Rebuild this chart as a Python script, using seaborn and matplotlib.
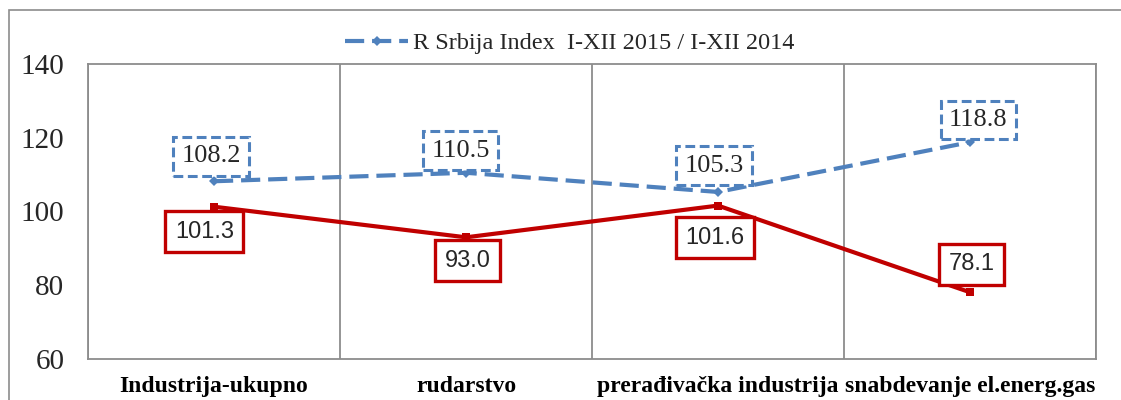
import pandas as pd
import numpy as np
import matplotlib.pyplot as plt
import matplotlib.patches as mpatches
import seaborn as sns

# --- podaci ---
kategorije = ['Industrija-ukupno', 'rudarstvo', 'prerađivačka industrija', 'snabdevanje el.energ.gas']
srbija = [108.2, 110.5, 105.3, 118.8]
druga_serija = [101.3, 93.0, 101.6, 78.1]
legenda = 'R Srbija Index  I-XII 2015 / I-XII 2014'

df = pd.DataFrame({'kategorija': kategorije, 'srbija': srbija, 'druga': druga_serija})

sns.set_style('white')
plt.rcParams['font.family'] = ['Liberation Serif', 'DejaVu Serif']

plava = '#4F81BD'
crvena = '#C00000'
siva = '#8C8C8C'

fig = plt.figure(figsize=(11.21, 4.0), dpi=100)
ax = fig.add_axes([88 / 1121, 1 - 359 / 400, (1096 - 88) / 1121, (359 - 64) / 400])

# okvir oko cele slike (desno i dole izlazi van slike)
fig.patches.append(mpatches.Rectangle((9 / 1121, -0.5), 1.2, 1.5 - 10 / 400, transform=fig.transFigure,
                                      fill=False, edgecolor=siva, linewidth=1.2))

sns.lineplot(data=df, x='kategorija', y='srbija', ax=ax, sort=False, color=plava,
             linewidth=3, marker='D', markersize=5, markeredgewidth=0, label=legenda)
sns.lineplot(data=df, x='kategorija', y='druga', ax=ax, sort=False, color=crvena,
             linewidth=3, marker='s', markersize=6, markeredgewidth=0, label='_nolegend_')
ax.lines[0].set_dashes([4.6, 1.9])

# oznake vrednosti
plavi_pomak = [(-2, 18), (-4, 16), (-3, 19), (6, 16)]
crveni_pomak = [(-7, -18), (1, -17), (-2, -23), (1, 20)]
for i, (v, d) in enumerate(zip(srbija, plavi_pomak)):
    ax.annotate(f'{v:.1f}', (i, v), xytext=d, textcoords='offset points', ha='center', va='center',
                fontsize=19, family=['Liberation Serif'],
                bbox=dict(boxstyle='square,pad=0.32', facecolor='white', edgecolor=plava,
                          linewidth=2.2, linestyle=(0, (3.2, 1.5))))
for i, (v, d) in enumerate(zip(druga_serija, crveni_pomak)):
    ax.annotate(f'{v:.1f}', (i, v), xytext=d, textcoords='offset points', ha='center', va='center',
                fontsize=17, family=['Liberation Sans'],
                bbox=dict(boxstyle='square,pad=0.4', facecolor='white', edgecolor=crvena, linewidth=2.4))

ax.set_xlim(-0.5, len(kategorije) - 0.5)
ax.set_ylim(60, 140)
ax.set_yticks(np.arange(60, 141, 20))
ax.set_xticks(range(len(kategorije)))
ax.set_xticklabels(kategorije, fontweight='bold', fontsize=17)
ax.set_xticks(np.arange(-0.5, len(kategorije), 1), minor=True)
ax.set_xlabel('')
ax.set_ylabel('')

ax.tick_params(axis='x', which='major', length=0, pad=12, colors='black')
ax.tick_params(axis='x', which='minor', length=6, direction='out', color=siva, width=1.3)
ax.tick_params(axis='y', length=6, direction='out', color=siva, width=1.3, labelsize=21, pad=11)
ax.xaxis.grid(True, which='minor', color=siva, linewidth=1.3)
ax.yaxis.grid(False)
for s in ax.spines.values():
    s.set_color(siva)
    s.set_linewidth(1.3)

ax.legend(loc='center', bbox_to_anchor=(570 / 1121, 1 - 43 / 400), bbox_transform=fig.transFigure,
          frameon=False, fontsize=17.5, handlelength=2.6, handletextpad=0.2)

fig.savefig('out.png', dpi=100)
